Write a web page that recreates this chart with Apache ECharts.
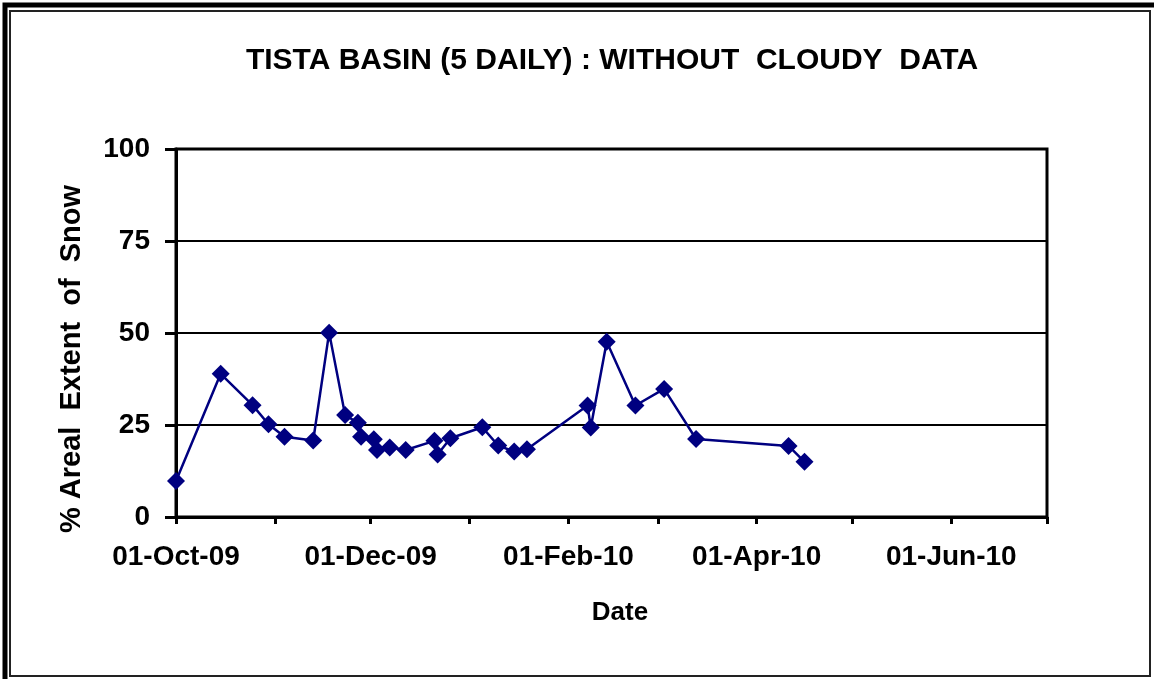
<!DOCTYPE html>
<html>
<head>
<meta charset="utf-8">
<script src="https://cdn.jsdelivr.net/npm/echarts@6/dist/echarts.min.js"></script>
<style>
html, body { margin: 0; padding: 0; background: #fff; }
#chart { width: 1154px; height: 679px; }
</style>
</head>
<body>
<div id="chart"></div>
<script>
// 5 daily snow cover, cloudy scenes removed
var dates = ['2009-10-01', '2009-10-15', '2009-10-25', '2009-10-30', '2009-11-04', '2009-11-13',
    '2009-11-18', '2009-11-23', '2009-11-27', '2009-11-28', '2009-12-02', '2009-12-03',
    '2009-12-07', '2009-12-12', '2009-12-21', '2009-12-22', '2009-12-26', '2010-01-05',
    '2010-01-10', '2010-01-15', '2010-01-19', '2010-02-07', '2010-02-08', '2010-02-13',
    '2010-02-22', '2010-03-03', '2010-03-13', '2010-04-11', '2010-04-16'];
var snow = [9.8, 38.9, 30.4, 25.2, 21.8, 20.8,
    50.1, 27.7, 25.6, 21.8, 21.1, 18.2,
    18.9, 18.2, 20.7, 17.0, 21.4, 24.4,
    19.4, 17.8, 18.4, 30.3, 24.3, 47.6,
    30.3, 34.8, 21.2, 19.3, 15.0];
var yTicks = [0, 25, 50, 75, 100];
var months = ['Jan', 'Feb', 'Mar', 'Apr', 'May', 'Jun', 'Jul', 'Aug', 'Sep', 'Oct', 'Nov', 'Dec'];

var font = 'Liberation Sans';
var dom = document.getElementById('chart');
var myChart = echarts.init(dom);

function pad(n) { return n < 10 ? '0' + n : '' + n; }

var points = [];
for (var i = 0; i < dates.length; i++) {
    points.push([dates[i], snow[i]]);
}

var option = {
    backgroundColor: '#fff',
    animation: false,
    grid: { left: 176, right: 107, top: 149, bottom: 162, show: true, borderColor: '#000', borderWidth: 3 },
    xAxis: {
        type: 'time',
        min: new Date(2009, 9, 1).getTime(),
        max: new Date(2010, 6, 1).getTime(),
        minInterval: 28 * 864e5,
        maxInterval: 31 * 864e5,
        splitLine: { show: false },
        axisLine: { lineStyle: { color: '#000', width: 3 } },
        axisTick: { length: 7, lineStyle: { color: '#000', width: 3 } },
        axisLabel: {
            margin: 26,
            fontFamily: font, fontSize: 28, fontWeight: 'bold', color: '#000',
            formatter: function (v) {
                var d = new Date(v);
                if (d.getMonth() % 2 === 0) return '';
                return pad(d.getDate()) + '-' + months[d.getMonth()] + '-' + pad(d.getFullYear() % 100);
            }
        }
    },
    yAxis: {
        type: 'value',
        min: yTicks[0],
        max: yTicks[yTicks.length - 1],
        interval: 25,
        axisLine: { show: true, lineStyle: { color: '#000', width: 3 } },
        axisTick: { show: true, length: 11, lineStyle: { color: '#000', width: 3 } },
        splitLine: { lineStyle: { color: '#000', width: 2 } },
        axisLabel: { margin: 26, fontFamily: font, fontSize: 28, fontWeight: 'bold', color: '#000' }
    },
    graphic: [
        { type: 'polyline', shape: { points: [[5, 679], [5, 5], [1154, 5]] }, style: { stroke: '#000', lineWidth: 5, fill: null } },
        { type: 'rect', shape: { x: 10, y: 11, width: 1140, height: 665 }, style: { stroke: '#222', lineWidth: 2, fill: null } },
        {
            type: 'text', x: 612, y: 61,
            style: { text: 'TISTA BASIN (5 DAILY) : WITHOUT  CLOUDY  DATA', fontFamily: font, fontSize: 30, fontWeight: 'bold', fill: '#000', align: 'center', verticalAlign: 'middle' }
        },
        {
            type: 'text', x: 72, y: 359, rotation: Math.PI / 2,
            style: { text: '% Areal  Extent  of  Snow', fontFamily: font, fontSize: 29, fontWeight: 'bold', fill: '#000', align: 'center', verticalAlign: 'middle' }
        },
        {
            type: 'text', x: 620, y: 613,
            style: { text: 'Date', fontFamily: font, fontSize: 26, fontWeight: 'bold', fill: '#000', align: 'center', verticalAlign: 'middle' }
        }
    ],
    series: [
        {
            name: 'Snow',
            type: 'line',
            data: points,
            symbol: 'diamond',
            symbolSize: 18,
            itemStyle: { color: '#000080' },
            lineStyle: { color: '#000080', width: 2.5 }
        }
    ]
};

if (option && typeof option === "object") {
    myChart.setOption(option, true);
}
</script>
</body>
</html>
